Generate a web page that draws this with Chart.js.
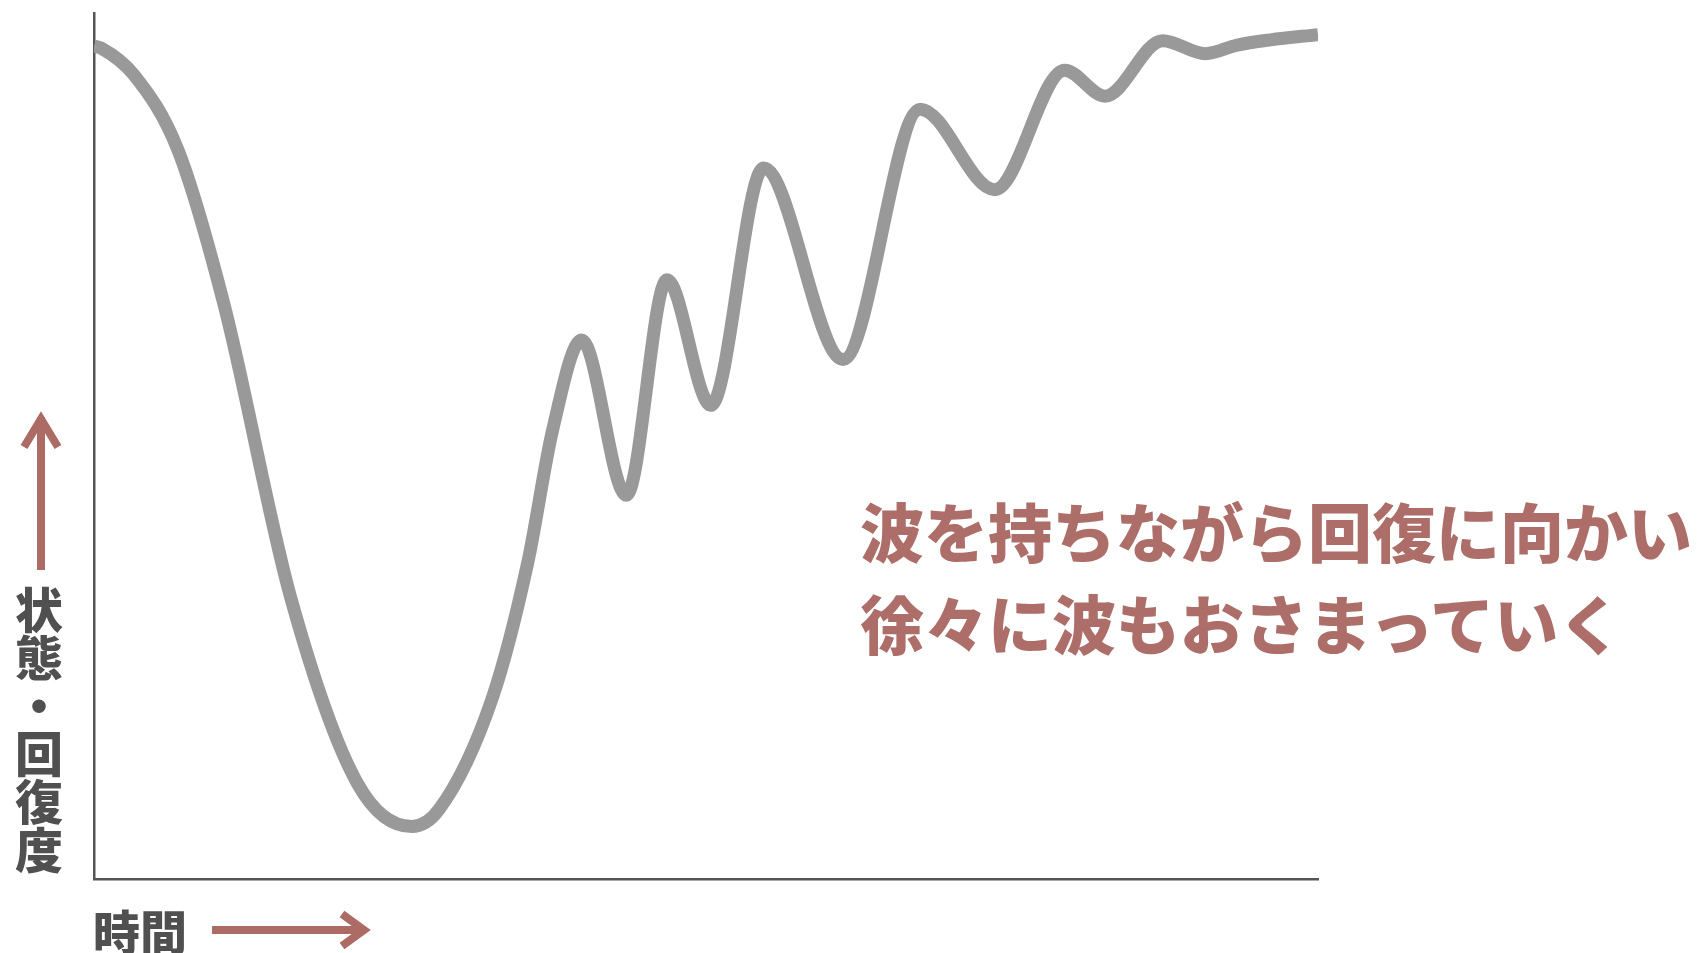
<!DOCTYPE html>
<html lang="ja">
<head>
<meta charset="utf-8">
<title>波を持ちながら回復に向かう</title>
<script src="https://cdn.jsdelivr.net/npm/chart.js@4.4.0/dist/chart.umd.min.js"></script>
<style>
    html, body { margin: 0; padding: 0; background: #fff; overflow: hidden; }
    #wrap { position: relative; width: 1697px; height: 953px; }
    .label {
        position: absolute;
        font-family: "Noto Sans CJK JP", sans-serif;
        line-height: 1;
        white-space: nowrap;
    }
    #yLabel {
        left: 15px; top: 586px;
        writing-mode: vertical-rl;
        text-orientation: upright;
        font-size: 48px; font-weight: 900;
        color: #505050;
    }
    #xLabel {
        left: 93px; top: 906px;
        font-size: 47px; font-weight: 900;
        color: #505050;
    }
    .note {
        left: 860px;
        font-size: 64px; font-weight: 900;
        color: #ad6d68;
    }
</style>
</head>
<body>
<div id="wrap">
    <canvas id="waveChart"></canvas>
    <div class="label" id="yLabel">状態・回復度</div>
    <div class="label" id="xLabel">時間</div>
    <div class="label note" style="top: 497px;">波を持ちながら回復に向かい</div>
    <div class="label note" style="top: 589px;">徐々に波もおさまっていく</div>
</div>
<script>
// Data (time 0-100, state 0-100)
const timeValues  = [0, 0.57, 3.27, 6.86, 10.61, 16.08, 21.55, 25.96,
                     28.16, 32.57, 35.43, 37.47, 39.84,
                     43.5, 46.8, 50.4, 54.7, 61.2, 67.5, 73.6, 79.3, 82.6, 87.3, 90.8,
                     93.4, 96.1, 100];
const stateValues = [96.19, 95.96, 92.84, 84.18, 66.4, 32.45, 10.97, 6.06,
                     7.97, 21.02, 36.49, 51.85, 62.24,
                     44.3, 69.2, 54.7, 82.1, 60.0, 88.9, 79.6, 93.4, 90.4, 96.8, 95.3,
                     96.3, 96.9, 97.5];

const lineColor = '#999999';
const arrowColor = '#ad6b66';
const axisColor = '#555555';

// Arrows next to the axis labels
const arrowPlugin = {
    id: 'arrows',
    afterDraw(chart) {
        const ctx = chart.ctx;
        ctx.save();
        ctx.strokeStyle = arrowColor;
        ctx.lineWidth = 8;
        ctx.lineCap = 'butt';
        ctx.lineJoin = 'miter';

        // vertical arrow (up)
        ctx.beginPath();
        ctx.moveTo(41, 570);
        ctx.lineTo(41, 417);
        ctx.stroke();
        ctx.beginPath();
        ctx.moveTo(24, 447);
        ctx.lineTo(41, 419);
        ctx.lineTo(58, 447);
        ctx.stroke();

        // horizontal arrow (right)
        ctx.beginPath();
        ctx.moveTo(212, 930);
        ctx.lineTo(362, 930);
        ctx.stroke();
        ctx.beginPath();
        ctx.moveTo(342, 914);
        ctx.lineTo(364, 930);
        ctx.lineTo(342, 946);
        ctx.stroke();
        ctx.restore();
    }
};

const points = timeValues.map((t, i) => ({ x: t, y: stateValues[i] }));

const ctx = document.getElementById('waveChart').getContext('2d');
new Chart(ctx, {
    type: 'line',
    data: {
        datasets: [{
            data: points,
            borderColor: lineColor,
            borderWidth: 13,
            cubicInterpolationMode: 'monotone',
            pointRadius: 0,
            fill: false,
            clip: 0
        }]
    },
    options: {
        responsive: true,
        maintainAspectRatio: false,
        animation: false,
        devicePixelRatio: 1,
        layout: {
            padding: { left: 86, right: 379, top: 13, bottom: 66 }
        },
        plugins: {
            legend: { display: false },
            tooltip: { enabled: false }
        },
        scales: {
            x: {
                type: 'linear',
                min: 0,
                max: 100,
                grid: { display: false },
                ticks: { display: false },
                border: { display: true, color: axisColor, width: 2.5 }
            },
            y: {
                min: 0,
                max: 100,
                grid: { display: false },
                ticks: { display: false },
                border: { display: true, color: axisColor, width: 2.5 }
            }
        }
    },
    plugins: [arrowPlugin]
});
</script>
</body>
</html>
